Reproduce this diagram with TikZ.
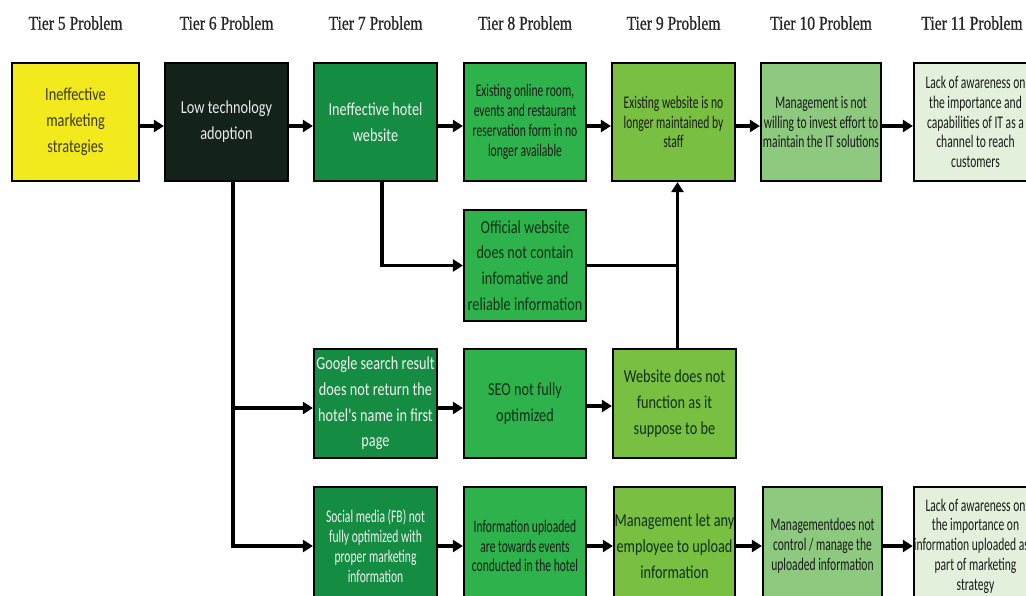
\documentclass[tikz,border=0pt]{standalone}
\usepackage{fontspec}
\usetikzlibrary{arrows.meta}
\newfontfamily\calfont[FakeStretch=0.78]{Carlito}
\newfontfamily\condfont[FakeStretch=0.65]{Carlito}
\newfontfamily\hdrfont[FakeStretch=0.8,FakeBold=0.8]{Liberation Serif}
\definecolor{cY}{HTML}{F2EA1C}
\definecolor{cD}{HTML}{14231A}
\definecolor{c7}{HTML}{148C42}
\definecolor{c8}{HTML}{2EB24B}
\definecolor{c9}{HTML}{78BF42}
\definecolor{c10}{HTML}{8DC97F}
\definecolor{c11}{HTML}{E3F0DB}
\definecolor{tdark}{HTML}{1A1A1A}
\definecolor{tgreen}{HTML}{10301A}
\definecolor{tolive}{HTML}{3A3A14}
\definecolor{hdrc}{HTML}{262626}
\tikzset{
  box/.style={draw=black, line width=2.2pt, inner sep=0pt, align=center},
  big/.style={font=\calfont\fontsize{18.3}{25.8}\selectfont},
  cond/.style={font=\condfont\fontsize{17.8}{19.8}\selectfont},
  hdr/.style={font=\hdrfont\fontsize{19.5}{22}\selectfont, text=hdrc},
  conn/.style={line width=3.8pt, -{Triangle[length=10pt,width=12pt]}},
  plainline/.style={line width=3.6pt},
}
\begin{document}
\begin{tikzpicture}[x=1pt,y=-1pt]
\useasboundingbox (0,0) rectangle (1026,595);
\clip (0,0) rectangle (1026,595);
\fill[white] (0,0) rectangle (1026,595);
% headers
\node[hdr] (h5) at (75.5,23) {Tier 5 Problem};
\node[hdr] (h6) at (226.5,23) {Tier 6 Problem};
\node[hdr] (h7) at (375.5,23) {Tier 7 Problem};
\node[hdr] (h8) at (525,23) {Tier 8 Problem};
\node[hdr] (h9) at (673.5,23) {Tier 9 Problem};
\node[hdr] (h10) at (821,23) {Tier 10 Problem};
\node[hdr] (h11) at (972,23) {Tier 11 Problem};
% row 1
\node[box, big, fill=cY, text=tolive, minimum width=127, minimum height=118] (t5) at (75.5,122) {Ineffective\\marketing\\strategies};
\node[box, big, fill=cD, text=white!92!black, minimum width=123, minimum height=118] (t6) at (226.5,122) {Low technology\\adoption};
\node[box, big, fill=c7, text=white!95!black, minimum width=123, minimum height=118] (t7) at (375.5,122) {Ineffective hotel\\website};
\node[box, cond, fill=c8, text=tdark, minimum width=122, minimum height=118] (t8) at (525,122) {Existing online room,\\events and restaurant\\reservation form in no\\longer available};
\node[box, cond, fill=c9, text=tdark, minimum width=123, minimum height=118] (t9) at (673.5,122) {Existing website is no\\longer maintained by\\staff};
\node[box, cond, fill=c10, text=tdark, minimum width=120, minimum height=118] (t10) at (821,122) {Management is not\\willing to invest effort to\\maintain the IT solutions};
\node[box, cond, fill=c11, text=tdark, minimum width=123, minimum height=118] (t11) at (975.5,122) {Lack of awareness on\\the importance and\\capabilities of IT as a\\channel to reach\\customers};
% row 2
\node[box, big, fill=c8, text=tgreen, minimum width=122, minimum height=111] (off) at (525,265.5) {Official website\\does not contain\\infomative and\\reliable information};
% row 3
\node[box, big, fill=c7, text=white!95!black, minimum width=123, minimum height=109] (g) at (375.5,403.5) {Google search result\\does not return the\\hotel's name in first\\page};
\node[box, big, fill=c8, text=tgreen, minimum width=122, minimum height=109] (seo) at (525,403.5) {SEO not fully\\optimized};
\node[box, big, fill=c9, text=tgreen, minimum width=123, minimum height=109] (wdn) at (674.5,403.5) {Website does not\\function as it\\suppose to be};
% row 4
\node[box, cond, fill=c7, text=white!95!black, minimum width=123, minimum height=118] (sm) at (375.5,546) {Social media (FB) not\\fully optimized with\\proper marketing\\information};
\node[box, cond, fill=c8, text=tdark, minimum width=122, minimum height=118] (iu) at (525,546) {Information uploaded\\are towards events\\conducted in the hotel};
\node[box, big, fill=c9, text=tgreen, minimum width=121, minimum height=118] (mla) at (674.5,546) {Management let any\\employee to upload\\information};
\node[box, cond, fill=c10, text=tdark, minimum width=119, minimum height=118] (mdn) at (822.5,546) {Managementdoes not\\control / manage the\\uploaded information};
\node[box, cond, fill=c11, text=tdark, minimum width=123, minimum height=118] (la) at (975.5,546) {Lack of awareness on\\the importance on\\information uploaded as a\\part of marketing\\strategy};
% row 1 connectors
\draw[conn] ([yshift=-4pt]t5.east) -- ([yshift=-4pt]t6.west);
\draw[conn] ([yshift=-4pt]t6.east) -- ([yshift=-4pt]t7.west);
\draw[conn] ([yshift=-4pt]t7.east) -- ([yshift=-4pt]t8.west);
\draw[conn] ([yshift=-4pt]t8.east) -- ([yshift=-4pt]t9.west);
\draw[conn] ([yshift=-4pt]t9.east) -- ([yshift=-4pt]t10.west);
\draw[conn] ([yshift=-4pt]t10.east) -- ([yshift=-4pt]t11.west);
% tier 6 trunk
\coordinate (trunk) at ([xshift=6.5pt]t6.south);
\draw[conn] (trunk) |- ([yshift=-4.5pt]g.west);
\draw[conn] (trunk) |- (sm.west);
% tier 7 branch
\draw[conn] ([xshift=6.5pt]t7.south) |- (off.west);
% upward arrow into tier 9
\coordinate (up) at ([xshift=3pt]wdn.north);
\draw[conn] (up) -- (up |- t9.south);
\draw[plainline] (off.east) -- (off.east -| up);
% row 3 connectors
\draw[conn] ([yshift=-4.5pt]g.east) -- ([yshift=-4.5pt]seo.west);
\draw[conn] ([yshift=-2.5pt]seo.east) -- ([yshift=-2.5pt]wdn.west);
% row 4 connectors
\draw[conn] (sm.east) -- (iu.west);
\draw[conn] (iu.east) -- (mla.west);
\draw[conn] (mla.east) -- (mdn.west);
\draw[conn] (mdn.east) -- (la.west);
\end{tikzpicture}
\end{document}
